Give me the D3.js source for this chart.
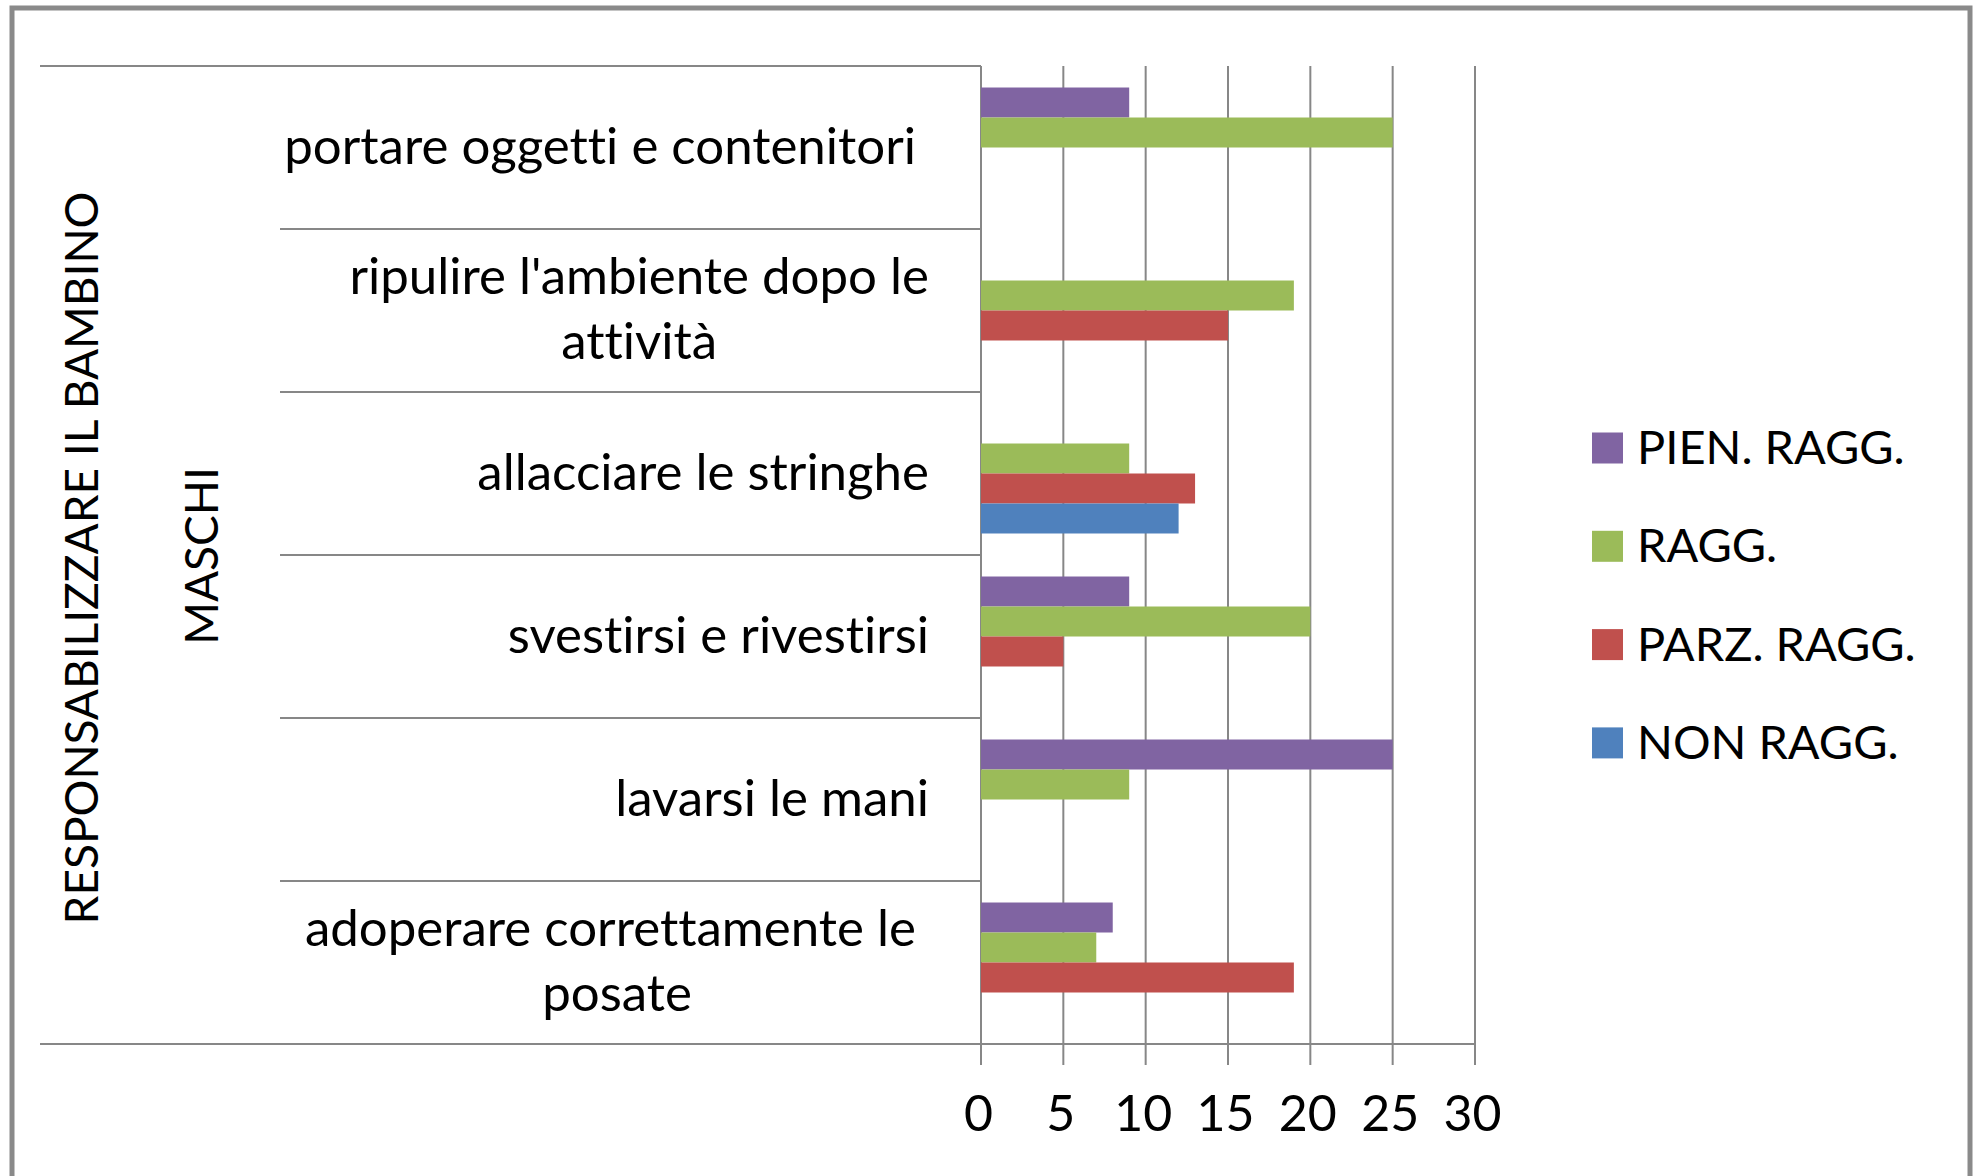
<!DOCTYPE html>
<html>
<head>
<meta charset="utf-8">
<script src="https://cdn.jsdelivr.net/npm/d3@7"></script>
<style>
  body { margin: 0; background: #fff; }
  text { font-family: Lato, "Open Sans", sans-serif; fill: #000; white-space: pre; font-variant-ligatures: none; }
</style>
</head>
<body>
<svg id="chart" width="1977" height="1176"></svg>
<script>
// categories top to bottom, "\n" marks where the label wraps
var categories = [
  "portare oggetti e contenitori ",
  "ripulire l'ambiente dopo le\nattività",
  "allacciare le stringhe",
  "svestirsi e rivestirsi",
  "lavarsi le mani",
  "adoperare correttamente le \nposate"
];
var seriesNames = ["PIEN. RAGG.", "RAGG.", "PARZ. RAGG.", "NON RAGG."];
var seriesColors = ["#8064A2", "#9BBB59", "#C0504D", "#4F81BD"];
var pienRagg = [9, 0, 0, 9, 25, 8];
var ragg     = [25, 19, 9, 20, 9, 7];
var parzRagg = [0, 15, 13, 5, 0, 19];
var nonRagg  = [0, 0, 12, 0, 0, 0];
var xTicks = [0, 5, 10, 15, 20, 25, 30];
var outerTitle = "RESPONSABILIZZARE IL BAMBINO";
var innerTitle = "MASCHI";

var seriesValues = [pienRagg, ragg, parzRagg, nonRagg];

var svg = d3.select("#chart");
var grid = "#878787";

var plotTop = 66, plotBottom = 1044;
var x = d3.scaleLinear().domain([0, 30]).range([981, 1475]);
var y0 = d3.scaleBand().domain(d3.range(categories.length)).range([plotTop, plotBottom]);
var y1 = d3.scaleBand().domain(d3.range(seriesNames.length))
  .range([0, y0.bandwidth()]).paddingOuter(0.717);

// outer frame
svg.append("rect")
  .attr("x", 12).attr("y", 8).attr("width", 1958).attr("height", 1200)
  .attr("fill", "none").attr("stroke", "#8a8a8a").attr("stroke-width", 5);

// vertical grid lines + ticks below the axis
svg.append("g").selectAll("line")
  .data(xTicks).enter()
  .append("line")
  .attr("x1", function(d) { return x(d); })
  .attr("x2", function(d) { return x(d); })
  .attr("y1", plotTop).attr("y2", plotBottom + 21)
  .attr("stroke", grid).attr("stroke-width", 2);

// category separators
var bounds = d3.range(categories.length + 1).map(function(i) { return plotTop + i * y0.step(); });
svg.append("g").selectAll("line")
  .data(bounds).enter()
  .append("line")
  .attr("x1", function(d, i) { return (i == 0 || i == categories.length) ? 40 : 280; })
  .attr("x2", function(d, i) { return i == categories.length ? x(30) : x(0); })
  .attr("y1", function(d) { return d; })
  .attr("y2", function(d) { return d; })
  .attr("stroke", grid).attr("stroke-width", 2);

// bars
var groups = svg.append("g").selectAll("g")
  .data(categories).enter()
  .append("g")
  .attr("transform", function(d, i) { return "translate(0," + y0(i) + ")"; });

groups.selectAll("rect")
  .data(function(d, i) { return seriesValues.map(function(s, k) { return {k: k, v: s[i]}; }); })
  .enter()
  .append("rect")
  .filter(function(d) { return d.v > 0; })
  .attr("x", x(0))
  .attr("y", function(d) { return y1(d.k); })
  .attr("width", function(d) { return x(d.v) - x(0); })
  .attr("height", y1.bandwidth())
  .attr("fill", function(d) { return seriesColors[d.k]; });

// category labels, right aligned block, lines centred inside it
var labelRight = 929, lineH = 65.6;
groups.each(function(d) {
  var g = d3.select(this);
  var lines = d.split("\n");
  var t = g.selectAll("text.lbl").data(lines).enter()
    .append("text").attr("class", "lbl")
    .attr("font-size", 51)
    .attr("text-anchor", "middle")
    .attr("y", function(l, j) { return y0.bandwidth() / 2 + 16 + (j - (lines.length - 1) / 2) * lineH; })
    .text(function(l) { return l; });
  var w = d3.max(t.nodes(), function(n) { return n.getComputedTextLength(); });
  t.attr("x", labelRight - w / 2);
});

// value axis labels
var axis = d3.axisBottom(x).tickValues(xTicks).tickSize(0).tickPadding(0);
var ax = svg.append("g").attr("transform", "translate(-3,1131)").call(axis);
ax.select(".domain").remove();
ax.selectAll("text").attr("dy", null).attr("font-size", 50)
  .style("font-family", "Lato, sans-serif").attr("fill", "#000");

// rotated titles
svg.append("text")
  .attr("transform", "translate(98,558) rotate(-90)")
  .attr("text-anchor", "middle").attr("font-size", 46)
  .text(outerTitle);
svg.append("text")
  .attr("transform", "translate(218,556) rotate(-90)")
  .attr("text-anchor", "middle").attr("font-size", 46)
  .text(innerTitle);

// legend
var legend = svg.append("g").selectAll("g")
  .data(seriesNames).enter()
  .append("g")
  .attr("transform", function(d, i) { return "translate(1592," + (448 + i * 98.3) + ")"; });
legend.append("rect")
  .attr("x", 0).attr("y", -15.5).attr("width", 31).attr("height", 31)
  .attr("fill", function(d, i) { return seriesColors[i]; });
legend.append("text")
  .attr("x", 45).attr("y", 16).attr("font-size", 47)
  .text(function(d) { return d; });
</script>
</body>
</html>
